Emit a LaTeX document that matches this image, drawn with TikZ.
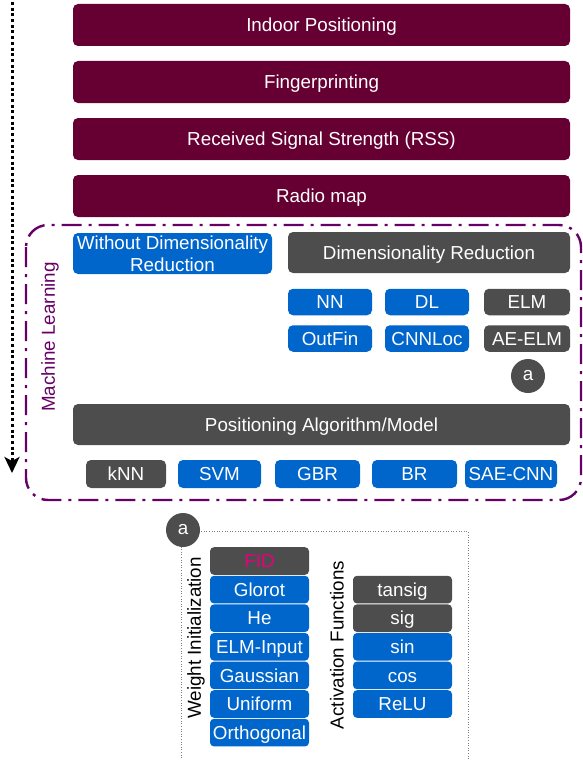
\documentclass[tikz,border=0pt]{standalone}
\usepackage{fontspec}
\setmainfont{Liberation Sans}
\usetikzlibrary{arrows.meta}
\definecolor{maroon}{HTML}{660033}
\definecolor{bblue}{HTML}{0066CC}
\definecolor{dgray}{HTML}{4D4D4D}
\definecolor{mlpurple}{HTML}{660066}
\definecolor{fidpink}{HTML}{E6007E}
\tikzset{
  box/.style={rounded corners=5pt, text=white, inner sep=0pt, align=center,
    font=\fontsize{18.8}{21}\selectfont, text height=13.7pt, text depth=0.4pt},
  mbox/.style={box, fill=maroon, minimum width=497pt, minimum height=42pt},
  bbox/.style={box, fill=bblue},
  gbox/.style={box, fill=dgray},
  small/.style={minimum height=26.5pt},
  stk/.style={minimum width=99pt, minimum height=27.6pt, rounded corners=4pt},
  circ/.style={circle, fill=dgray, text=white, minimum size=34pt, inner sep=0pt,
    font=\fontsize{18.8}{21}\selectfont},
  rotlab/.style={rotate=90, font=\fontsize{18.8}{21}\selectfont, inner sep=0pt},
}
\begin{document}
\begin{tikzpicture}[x=1pt,y=-1pt]
\useasboundingbox (0,0) rectangle (583,760);
% top maroon boxes
\node[mbox] (ip) at (321.5,25) {Indoor Positioning};
\node[mbox] (fp) at (321.5,82) {Fingerprinting};
\node[mbox] (rss) at (321.5,139) {Received Signal Strength (RSS)};
\node[mbox] (rm) at (321.5,196) {Radio map};
% dotted arrow
\coordinate (as) at (12,2);
\coordinate (ae) at (12,473);
\draw[line width=3pt, dash pattern=on 3pt off 2.7pt, -{Stealth[length=16pt,width=15pt,inset=4pt]}] (as) -- (ae);
% purple dash-dot frame
\coordinate (f1) at (26,225);
\coordinate (f2) at (581,500);
\draw[mlpurple, line width=2.4pt, rounded corners=22pt, dash pattern=on 20pt off 7pt on 3pt off 7pt] (f1) rectangle (f2);
\node[rotlab, text=mlpurple] (ml) at (50,337) {Machine Learning};
% ML contents
\node[bbox, minimum width=199pt, minimum height=41pt, text height=, text depth=, font=\fontsize{18.8}{22}\selectfont] (wdr) at (172.5,253.5) {Without Dimensionality\\Reduction};
\node[gbox, minimum width=282pt, minimum height=41pt] (dr) at (429,252.5) {Dimensionality Reduction};
\node[bbox, small, minimum width=84pt] (nn) at (330,302) {NN};
\node[bbox, small, minimum width=84pt] (dl) at (427,302) {DL};
\node[gbox, small, minimum width=86pt] (elm) at (527,302) {ELM};
\node[bbox, small, minimum width=84pt] (of) at (330,338.5) {OutFin};
\node[bbox, small, minimum width=84pt] (cnn) at (427,338.5) {CNNLoc};
\node[gbox, small, minimum width=86pt] (aeelm) at (527,338.5) {AE-ELM};
\node[circ] (ca) at (528,376) {a};
\node[gbox, minimum width=497pt, minimum height=41pt] (pam) at (321.5,424.5) {Positioning Algorithm/Model};
\node[gbox, minimum width=80pt, minimum height=28pt] (knn) at (126,474) {kNN};
\node[bbox, minimum width=83pt, minimum height=28pt] (svm) at (219.5,474) {SVM};
\node[bbox, minimum width=85pt, minimum height=28pt] (gbr) at (317.5,474) {GBR};
\node[bbox, minimum width=85pt, minimum height=28pt] (br) at (414.5,474) {BR};
\node[bbox, minimum width=92pt, minimum height=28pt] (sae) at (511,474) {SAE-CNN};
% lower detail frame
\coordinate (c1) at (468,531);
\coordinate (c2) at (468,760);
\coordinate (c3) at (181,760);
\draw[gray, line width=0.9pt, dash pattern=on 1pt off 1.6pt] (183,531) -- (c1) -- (c2);
\draw[gray, line width=0.9pt, dash pattern=on 1pt off 1.6pt] (181,531) -- (c3);
\node[circ] (cb) at (183,530) {a};
\node[rotlab] (wi) at (196,638) {Weight Initialization};
\node[rotlab] (af) at (337,645) {Activation Functions};
\node[gbox, stk, text=fidpink] (fid) at (259.5,561) {FID};
\node[bbox, stk] (glo) at (259.5,589.6) {Glorot};
\node[bbox, stk] (he) at (259.5,618.2) {He};
\node[bbox, stk] (elmi) at (259.5,646.8) {ELM-Input};
\node[bbox, stk] (gau) at (259.5,675.4) {Gaussian};
\node[bbox, stk] (uni) at (259.5,704) {Uniform};
\node[bbox, stk] (ort) at (259.5,732.6) {Orthogonal};
\node[gbox, stk] (tan) at (402.5,589.6) {tansig};
\node[gbox, stk] (sig) at (402.5,618.2) {sig};
\node[bbox, stk] (sin) at (402.5,646.8) {sin};
\node[bbox, stk] (cos) at (402.5,675.4) {cos};
\node[bbox, stk] (relu) at (402.5,704) {ReLU};
\end{tikzpicture}
\end{document}
